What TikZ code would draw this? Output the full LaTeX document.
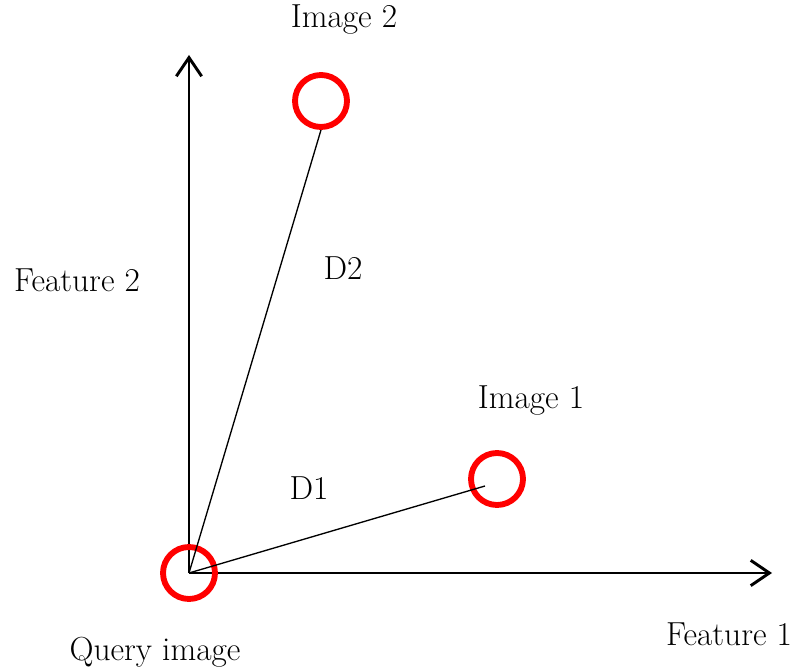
\documentclass[tikz,border=0pt]{standalone}
\usepackage{tikz}
\usetikzlibrary{arrows.meta}
\tikzset{
  % --- feature axes ------------------------------------------------------------
  axis/.style={line width=2.2pt,-{Straight Barb[length=14pt,width=19pt,line width=2.2pt]}},
  % --- images in feature space -------------------------------------------------
  ring/.style={circle,draw=red,line width=4.4pt,minimum size=39pt,inner sep=0pt},
  dist/.style={line width=1pt},
  lab/.style={font=\fontsize{25}{30}\selectfont,inner sep=0pt},
}
\begin{document}
\begin{tikzpicture}[x=0.75pt,y=-0.75pt]
  \useasboundingbox (0,0) rectangle (793,670);

  \coordinate (o)    at (189,573);
  \coordinate (ytip) at (189,55);
  \coordinate (xtip) at (772,573);
  \draw[axis] (o) -- (ytip);
  \draw[axis] (o) -- (xtip);

  \node[ring] (q)    at (189,573) {};
  \node[ring] (img2) at (321,101) {};
  \node[ring] (img1) at (497,479) {};
  \coordinate (d1end) at (485,486);

  \draw[dist] (q.center) -- (img2.south);
  \draw[dist] (q.center) -- (d1end);

  \node[lab] (limg2) at (344,20)  {Image 2};
  \node[lab] (limg1) at (531,401) {Image 1};
  \node[lab] (lq)    at (155,652) {Query image};
  \node[lab] (lf2)   at (77,280)  {Feature 2};
  \node[lab] (lf1)   at (729,634) {Feature 1};
  \node[lab] (ld2)   at (343,268) {D2};
  \node[lab] (ld1)   at (309,488) {D1};
\end{tikzpicture}
\end{document}
